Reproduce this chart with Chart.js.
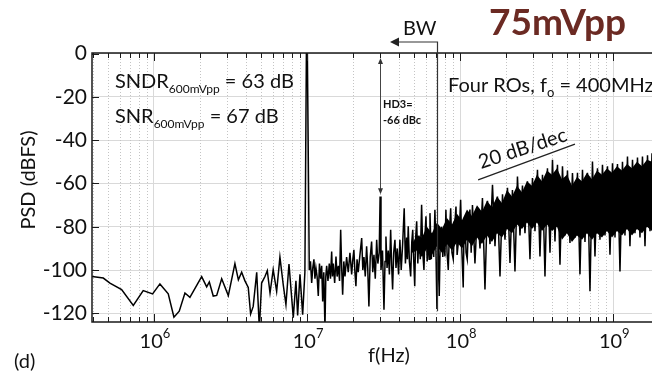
<!DOCTYPE html>
<html>
<head>
<meta charset="utf-8">
<script src="https://cdn.jsdelivr.net/npm/chart.js@4.4.0/dist/chart.umd.min.js"></script>
<style>
  html, body { margin: 0; padding: 0; background: #fff; }
  #wrap { width: 652px; height: 374px; }
</style>
</head>
<body>
<div id="wrap"><canvas id="psdChart" width="652" height="374"></canvas></div>
<script>
// Output spectrum (Hz / dBFS), split in three stretches
const lowHz = [
  3.94e5, 4.67e5, 5.16e5, 6.15e5, 7.33e5, 8.51e5, 9.8e5, 1.094e6, 1.24e6, 1.351e6,
  1.463e6, 1.594e6, 1.718e6, 2.05e6, 2.21e6, 2.30e6, 2.44e6, 2.57e6, 2.77e6, 3.06e6,
  3.38e6, 3.56e6, 3.74e6, 3.93e6, 4.13e6, 4.28e6, 4.45e6, 4.69e6, 4.88e6, 5.05e6,
  5.31e6, 5.50e6, 5.73e6, 6.01e6, 6.33e6, 6.65e6, 6.99e6, 7.28e6, 7.62e6, 8.13e6,
  8.46e6, 8.68e6, 8.99e6, 9.36e6, 9.68e6
];
const lowDb = [
  -103, -103.7, -106, -109, -116.3, -109.5, -111, -106.4, -111, -121.8,
  -119, -110.6, -112.6, -103, -107.8, -105.5, -112, -111.7, -104, -111.8,
  -97, -104.5, -101, -105, -108, -120.3, -116.8, -101, -127, -106,
  -103, -100.3, -110.6, -99.8, -109.8, -94, -106.8, -116, -97.2, -122,
  -105, -121, -102, -120.6, -101
];

// 10 MHz input tone
const toneHz = [9.9e6, 1.005e7];
const toneDb = [0, 0];

const midHz = [
  1.034e7, 1.053e7, 1.072e7, 1.090e7, 1.109e7, 1.126e7, 1.143e7, 1.163e7, 1.184e7, 1.205e7,
  1.227e7, 1.246e7, 1.265e7, 1.286e7, 1.309e7, 1.326e7, 1.343e7, 1.370e7, 1.397e7, 1.422e7,
  1.448e7, 1.465e7, 1.483e7, 1.515e7, 1.545e7, 1.572e7, 1.600e7, 1.630e7, 1.658e7, 1.683e7,
  1.708e7, 1.738e7, 1.769e7, 1.813e7, 1.858e7, 1.906e7, 1.956e7, 1.990e7, 2.023e7, 2.054e7,
  2.085e7, 2.121e7, 2.158e7, 2.215e7, 2.274e7, 2.313e7, 2.353e7, 2.400e7, 2.449e7, 2.490e7,
  2.535e7, 2.586e7, 2.640e7, 2.686e7, 2.735e7, 2.790e7, 2.849e7, 2.900e7, 2.960e7, 3.000e7,
  3.040e7, 3.110e7, 3.180e7, 3.230e7, 3.275e7, 3.330e7, 3.390e7, 3.450e7, 3.516e7, 3.570e7,
  3.620e7, 3.680e7, 3.750e7, 3.810e7, 3.880e7, 3.960e7, 4.040e7, 4.120e7, 4.210e7, 4.310e7,
  4.390e7, 4.470e7, 4.520e7, 4.580e7, 4.660e7, 4.750e7, 4.830e7, 4.900e7, 4.970e7, 5.050e7,
  5.120e7, 5.200e7, 5.290e7, 5.380e7, 5.490e7, 5.600e7, 5.700e7, 5.800e7, 5.890e7, 5.980e7,
  6.090e7, 6.190e7, 6.270e7, 6.350e7, 6.480e7, 6.610e7, 6.720e7, 6.840e7, 6.950e7, 7.050e7,
  7.170e7, 7.300e7, 7.420e7, 7.570e7, 7.700e7, 7.840e7, 7.950e7, 8.070e7, 8.210e7, 8.360e7,
  8.510e7, 8.670e7, 8.840e7, 9.010e7, 9.200e7, 9.390e7, 9.550e7, 9.720e7, 9.900e7, 1.007e8,
  1.027e8, 1.047e8, 1.060e8, 1.074e8, 1.093e8, 1.112e8, 1.135e8, 1.158e8, 1.180e8
];
const midDb = [
  -100, -96, -106, -99, -95, -104, -99, -103, -112, -97,
  -104, -98, -114.5, -101, -127, -103, -98, -105, -97, -104,
  -91.4, -103, -97, -106, -93.7, -103, -98, -105, -81.4, -99,
  -111.4, -96, -103, -94, -101, -92, -102, -95, -90.6, -101,
  -107.5, -95, -101, -93, -85.2, -100, -94, -103, -89, -99,
  -116.8, -94, -86.8, -101, -93, -104, -86, -97, -92, -66,
  -100, -91, -118.3, -96, -84.5, -99, -91, -102, -81.4, -98,
  -109, -92, -86, -99, -90, -102, -86, -100, -88, -71.4,
  -97, -85, -95, -79.8, -96, -103, -87, -81.4, -95, -107.5,
  -85, -77.5, -97, -84, -95, -69.8, -92, -100, -84, -75.2,
  -96, -84, -95, -73.7, -95, -83, -94, -72.1, -92, -118,
  -85, -112, -84, -80, -94, -85, -93.7, -72.1, -92, -100,
  -82, -71.4, -92, -95, -80, -70.6, -93, -87.5, -80, -67.5,
  -92, -108, -80, -75.2, -92, -95, -78, -72, -92
];

const highHz = [
  1.203e8, 1.249e8, 1.297e8, 1.347e8, 1.398e8, 1.452e8, 1.508e8, 1.566e8, 1.626e8, 1.688e8,
  1.752e8, 1.820e8, 1.890e8, 1.962e8, 2.037e8, 2.115e8, 2.195e8, 2.280e8, 2.367e8, 2.458e8,
  2.552e8, 2.650e8, 2.751e8, 2.857e8, 2.966e8, 3.080e8, 3.198e8, 3.320e8, 3.448e8, 3.580e8,
  3.716e8, 3.860e8, 4.008e8, 4.161e8, 4.320e8, 4.486e8, 4.658e8, 4.836e8, 5.021e8, 5.213e8,
  5.413e8, 5.621e8, 5.836e8, 6.059e8, 6.292e8, 6.533e8, 6.783e8, 7.043e8, 7.312e8, 7.593e8,
  7.884e8, 8.186e8, 8.500e8, 8.826e8, 9.164e8, 9.515e8, 9.881e8, 1.026e9, 1.065e9, 1.106e9,
  1.148e9, 1.192e9, 1.238e9, 1.285e9, 1.335e9, 1.386e9, 1.439e9, 1.494e9, 1.551e9, 1.611e9,
  1.673e9, 1.737e9, 1.790e9
];
const highDb = [
  -70, -97, -72, -90, -66.7, -109, -68, -88, -60.6, -89,
  -66, -103, -65, -86, -62, -96.7, -63, -100.6, -56.8, -84,
  -61, -83, -59, -95, -57.5, -82, -53.7, -93.7, -56, -103,
  -53, -92, -49, -86.8, -51.4, -97.5, -52, -84, -54, -87.5,
  -55.2, -85, -55, -102, -53.7, -87, -55, -109.8, -49.8, -93.7,
  -53, -86, -51.4, -84, -52, -92.9, -50.6, -85, -51, -100.6,
  -50, -84, -47.5, -89, -49, -83, -48, -85, -47.5, -89,
  -47, -82, -46
];

// solid core of the noise floor above ~45 MHz (ragged upper / lower edge)
const bandHz = [
  4.84e7, 5.22e7, 5.63e7, 6.07e7, 6.54e7, 7.05e7, 7.60e7, 8.20e7, 8.84e7, 9.53e7,
  1.027e8, 1.108e8, 1.194e8, 1.288e8, 1.388e8, 1.496e8, 1.613e8, 1.739e8, 1.875e8, 2.022e8,
  2.180e8, 2.350e8, 2.533e8, 2.731e8, 2.944e8, 3.174e8, 3.422e8, 3.689e8, 3.977e8, 4.288e8,
  4.623e8, 4.984e8, 5.373e8, 5.793e8, 6.245e8, 6.733e8, 7.259e8, 7.826e8, 8.437e8, 9.096e8,
  9.806e8, 1.057e9, 1.140e9, 1.229e9, 1.325e9, 1.428e9, 1.540e9, 1.660e9, 1.790e9
];
const bandTopDb = [
  -88, -84, -85, -80, -83, -78, -81, -76, -79, -74,
  -77, -72, -75, -70, -73, -68, -71, -66, -69, -63,
  -66, -61, -64, -59, -61, -56, -59, -54, -56, -53,
  -58, -56, -61, -57, -59, -55, -58, -54, -56, -53,
  -55, -52, -54, -51, -53, -50, -52, -49, -50
];
const bandBottomDb = [
  -92, -91, -94, -90, -93, -89, -92, -88, -91, -87,
  -90, -86, -89, -85, -88, -84, -87, -83, -85, -81,
  -83, -79, -81, -78, -81, -78, -82, -79, -82, -80,
  -86, -83, -87, -84, -86, -83, -86, -83, -85, -82,
  -85, -82, -84, -81, -84, -81, -83, -80, -82
];

const yTicks = [0, -20, -40, -60, -80, -100, -120];
const xDecades = [1e6, 1e7, 1e8, 1e9];
const xExponents = ['6', '7', '8', '9'];

const X_MIN = 3.94e5, X_MAX = 1.79e9;
const Y_MIN = -124, Y_MAX = 0.3;
const FONT = 'Lato';

function toPoints(hz, db) {
    return hz.map((f, i) => ({ x: f, y: db[i] }));
}

function minorTicks() {
    const out = [];
    for (let e = 5; e <= 9; e++) {
        for (let k = 2; k <= 9; k++) {
            const v = k * Math.pow(10, e);
            if (v > X_MIN && v < X_MAX) out.push(v);
        }
    }
    return out;
}

function partsText(ctx, x, y, parts) {
    // parts: [text, size, dy]
    parts.forEach(([s, size, dy]) => {
        ctx.font = size + 'px ' + FONT;
        ctx.fillText(s, x, y + dy);
        x += ctx.measureText(s).width;
    });
}

function arrowHead(ctx, x, y, dir, len, half) {
    ctx.beginPath();
    ctx.moveTo(x, y);
    if (dir === 'left') {
        ctx.lineTo(x + len, y - half);
        ctx.lineTo(x + len, y + half);
    } else if (dir === 'up') {
        ctx.lineTo(x - half, y + len);
        ctx.lineTo(x + half, y + len);
    } else {
        ctx.lineTo(x - half, y - len);
        ctx.lineTo(x + half, y - len);
    }
    ctx.closePath();
    ctx.fill();
}

const decor = {
    id: 'decor',
    beforeDatasetsDraw(chart) {
        const { ctx, chartArea: a, scales: { x } } = chart;
        ctx.save();
        ctx.strokeStyle = '#c4c4c4';
        ctx.lineWidth = 1;
        ctx.setLineDash([1, 2]);
        minorTicks().forEach(v => {
            const px = Math.round(x.getPixelForValue(v)) + 0.5;
            ctx.beginPath();
            ctx.moveTo(px, a.top);
            ctx.lineTo(px, a.bottom);
            ctx.stroke();
        });
        ctx.restore();
    },
    afterDatasetsDraw(chart) {
        const { ctx, chartArea: a, scales: { x, y } } = chart;
        ctx.save();

        // frame
        ctx.strokeStyle = '#1a1a1a';
        ctx.lineWidth = 1.5;
        ctx.beginPath();
        ctx.moveTo(a.right, a.top);
        ctx.lineTo(a.left, a.top);
        ctx.lineTo(a.left, a.bottom);
        ctx.lineTo(a.right, a.bottom);
        ctx.stroke();

        // tick marks
        ctx.lineWidth = 1;
        const marks = minorTicks().map(v => [v, 5]).concat(xDecades.map(v => [v, 8]));
        marks.forEach(([v, len]) => {
            const px = Math.round(x.getPixelForValue(v)) + 0.5;
            ctx.beginPath();
            ctx.moveTo(px, a.top);
            ctx.lineTo(px, a.top + len);
            ctx.moveTo(px, a.bottom);
            ctx.lineTo(px, a.bottom - len);
            ctx.stroke();
        });
        yTicks.forEach(v => {
            const py = Math.round(y.getPixelForValue(v)) + 0.5;
            ctx.beginPath();
            ctx.moveTo(a.left, py);
            ctx.lineTo(a.left + 7, py);
            ctx.stroke();
        });

        ctx.fillStyle = '#111';
        ctx.textBaseline = 'alphabetic';

        // x tick labels 10^n
        xDecades.forEach((v, i) => {
            const px = x.getPixelForValue(v);
            ctx.font = '20px ' + FONT;
            const w1 = ctx.measureText('10').width;
            ctx.font = '13px ' + FONT;
            const w2 = ctx.measureText(xExponents[i]).width;
            const left = px - (w1 + w2) / 2 + 1;
            partsText(ctx, left, 348, [['10', 20, 0], [xExponents[i], 13, -10]]);
        });

        // axis titles
        ctx.font = '20px ' + FONT;
        ctx.textAlign = 'center';
        ctx.fillText('f(Hz)', 389, 362);
        ctx.save();
        ctx.translate(35, 180);
        ctx.rotate(-Math.PI / 2);
        ctx.fillText('PSD (dBFS)', 0, 0);
        ctx.restore();
        ctx.textAlign = 'left';
        ctx.fillText('(d)', 14, 368);

        // metrics
        partsText(ctx, 115, 88, [['SNDR', 20, 0], ['600mVpp', 12, 5], [' = 63 dB', 20, 0]]);
        partsText(ctx, 115, 123, [['SNR', 20, 0], ['600mVpp', 12, 5], [' = 67 dB', 20, 0]]);
        partsText(ctx, 448, 92, [['Four ROs, f', 20, 0], ['o', 13, 5], [' = 400MHz', 20, 0]]);

        // 75mVpp
        ctx.fillStyle = '#6b2a23';
        ctx.font = 'bold 37px ' + FONT;
        ctx.fillText('75mVpp', 489, 35);

        // BW marker
        ctx.fillStyle = '#111';
        ctx.strokeStyle = '#333';
        ctx.font = '20px ' + FONT;
        ctx.fillText('BW', 403, 35);
        const bwX = Math.round(x.getPixelForValue(7.03e7)) + 0.5;
        const bwTip = x.getPixelForValue(3.48e7);
        const bwY = 42;
        ctx.lineWidth = 1.2;
        ctx.beginPath();
        ctx.moveTo(bwTip + 6, bwY);
        ctx.lineTo(bwX, bwY);
        ctx.lineTo(bwX, y.getPixelForValue(-119));
        ctx.stroke();
        ctx.fillStyle = '#222';
        arrowHead(ctx, bwTip, bwY, 'left', 9, 4.5);

        // HD3 double arrow
        const hdX = Math.round(x.getPixelForValue(3.0e7)) + 0.5;
        const hdTop = y.getPixelForValue(-2);
        const hdBot = y.getPixelForValue(-65);
        ctx.strokeStyle = '#444';
        ctx.lineWidth = 1;
        ctx.beginPath();
        ctx.moveTo(hdX, hdTop + 4);
        ctx.lineTo(hdX, hdBot - 4);
        ctx.stroke();
        ctx.fillStyle = '#333';
        arrowHead(ctx, hdX, hdTop, 'up', 6, 2.5);
        arrowHead(ctx, hdX, hdBot, 'down', 6, 2.5);
        ctx.fillStyle = '#111';
        ctx.font = 'bold 11px ' + FONT;
        ctx.fillText('HD3=', 383, 108);
        ctx.fillText('-66 dBc', 383, 124);

        // 20 dB/dec slope marker
        const sx0 = x.getPixelForValue(1.31e8), sy0 = y.getPixelForValue(-58.3);
        const sx1 = x.getPixelForValue(5.62e8), sy1 = y.getPixelForValue(-41.8);
        ctx.strokeStyle = '#222';
        ctx.lineWidth = 1.3;
        ctx.beginPath();
        ctx.moveTo(sx0, sy0);
        ctx.lineTo(sx1, sy1);
        ctx.stroke();
        ctx.save();
        ctx.translate(481, 169);
        ctx.rotate(-18 * Math.PI / 180);
        ctx.font = '20px ' + FONT;
        ctx.fillText('20 dB/dec', 0, 0);
        ctx.restore();

        ctx.restore();
    }
};

document.addEventListener('DOMContentLoaded', function() {
    const ctx = document.getElementById('psdChart');
    Chart.defaults.font.family = FONT;

    const trace = toPoints(lowHz, lowDb)
        .concat(toPoints(toneHz, toneDb))
        .concat(toPoints(midHz, midDb))
        .concat(toPoints(highHz, highDb));

    new Chart(ctx, {
        type: 'line',
        data: {
            datasets: [
                {
                    label: 'noise core top',
                    data: toPoints(bandHz, bandTopDb),
                    borderWidth: 0,
                    pointRadius: 0,
                    backgroundColor: '#000',
                    fill: '+1'
                },
                {
                    label: 'noise core bottom',
                    data: toPoints(bandHz, bandBottomDb),
                    borderWidth: 0,
                    pointRadius: 0,
                    fill: false
                },
                {
                    label: 'PSD',
                    data: trace,
                    borderColor: '#000',
                    borderWidth: 1.5,
                    pointRadius: 0,
                    tension: 0,
                    fill: false
                }
            ]
        },
        options: {
            responsive: false,
            animation: false,
            devicePixelRatio: 1,
            layout: { padding: { top: 53, left: 0, right: 0, bottom: 0 } },
            plugins: {
                legend: { display: false },
                tooltip: { enabled: false }
            },
            scales: {
                x: {
                    type: 'logarithmic',
                    min: X_MIN,
                    max: X_MAX,
                    afterBuildTicks: scale => {
                        scale.ticks = xDecades.map(v => ({ value: v }));
                    },
                    afterFit: scale => { scale.height = 52; },
                    ticks: { display: false },
                    grid: { color: '#d9d9d9', lineWidth: 1, drawTicks: false },
                    border: { display: false }
                },
                y: {
                    type: 'linear',
                    min: Y_MIN,
                    max: Y_MAX,
                    afterBuildTicks: scale => {
                        scale.ticks = yTicks.map(v => ({ value: v }));
                    },
                    afterFit: scale => { scale.width = 92; },
                    ticks: {
                        padding: 5,
                        color: '#111',
                        font: { size: 21, family: FONT },
                        callback: v => String(v)
                    },
                    grid: { color: '#d9d9d9', lineWidth: 1, drawTicks: false },
                    border: { display: false }
                }
            }
        },
        plugins: [decor]
    });
});
</script>
</body>
</html>
